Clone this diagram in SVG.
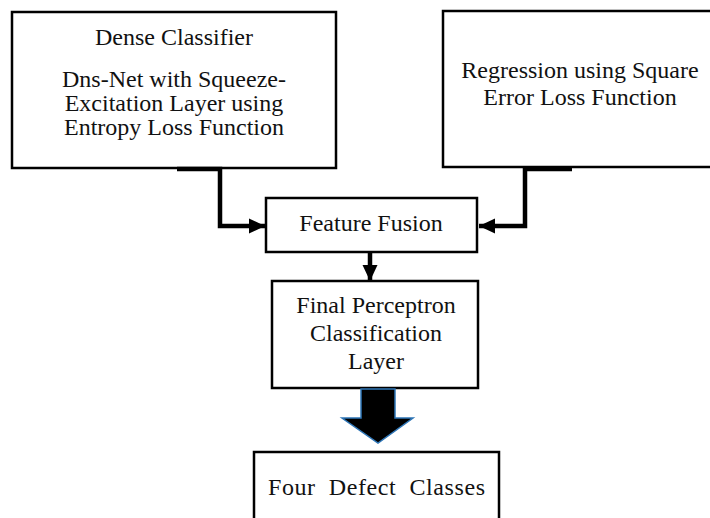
<svg xmlns="http://www.w3.org/2000/svg" width="710" height="518" viewBox="0 0 710 518">
  <style>
    .box { fill: #ffffff; stroke: #000000; stroke-width: 2.5; }
    .t { font-family: "Liberation Serif", "Times New Roman", serif; font-size: 24px; fill: #111111; text-anchor: middle; }
    .conn { fill: none; stroke: #000000; stroke-width: 4.5; stroke-linejoin: miter; }
  </style>
  <defs>
    <marker id="ah" markerUnits="userSpaceOnUse" markerWidth="18" markerHeight="18" refX="16" refY="9" orient="auto">
      <path d="M0,1.5 L16,9 L0,16.5 Z" fill="#000000"/>
    </marker>
  </defs>
  <rect width="710" height="518" fill="#ffffff"/>

  <g id="dense-classifier">
    <rect class="box" x="12" y="12" width="324" height="156"/>
    <text class="t" x="174" y="45">Dense Classifier</text>
    <text class="t" x="174" y="87">Dns-Net with Squeeze-</text>
    <text class="t" x="174" y="111">Excitation Layer using</text>
    <text class="t" x="174" y="135">Entropy Loss Function</text>
  </g>

  <g id="regression">
    <rect class="box" x="443" y="11" width="285" height="156"/>
    <text class="t" x="580" y="78">Regression using Square</text>
    <text class="t" x="580" y="105">Error Loss Function</text>
  </g>

  <g id="feature-fusion">
    <rect class="box" x="266" y="198" width="211" height="54"/>
    <text class="t" x="371" y="231">Feature Fusion</text>
  </g>

  <g id="final-perceptron">
    <rect class="box" x="272" y="281" width="206" height="107"/>
    <text class="t" x="376" y="313">Final Perceptron</text>
    <text class="t" x="376" y="341">Classification</text>
    <text class="t" x="376" y="369">Layer</text>
  </g>

  <g id="four-defect-classes">
    <rect class="box" x="254" y="452" width="245" height="90"/>
    <text class="t" x="268" y="495" style="text-anchor:start" xml:space="preserve" textLength="217" lengthAdjust="spacing">Four  Defect  Classes</text>
  </g>

  <g id="connectors">
    <path class="conn" d="M177,169 L220,169 L220,226 L265,226" marker-end="url(#ah)"/>
    <path class="conn" d="M572,169 L525,169 L525,226 L479,226" marker-end="url(#ah)"/>
    <path class="conn" d="M370,252 L370,281" stroke-width="3.5" marker-end="url(#ah)"/>
    <polygon points="361,389 395,389 395,418 413,418 378,443 342,418 361,418" fill="#000000" stroke="#2e75b6" stroke-width="1.5" stroke-linejoin="miter"/>
  </g>
</svg>
